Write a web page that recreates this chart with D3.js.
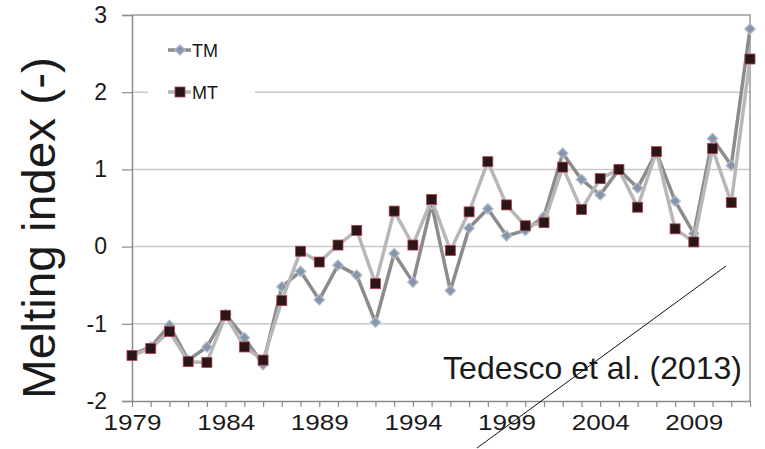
<!DOCTYPE html>
<html>
<head>
<meta charset="utf-8">
<script src="https://cdn.jsdelivr.net/npm/d3@7"></script>
<style>
  body { margin: 0; background: #fff; }
  text { font-family: "Liberation Sans", Arial, sans-serif; fill: #1a1a1a; }
</style>
</head>
<body>
<svg width="765" height="449"></svg>
<script>
// data
var years = d3.range(1979, 2013);
var tm = [-1.40, -1.30, -1.02, -1.47, -1.30, -0.88, -1.18, -1.53, -0.52, -0.32,
          -0.69, -0.24, -0.37, -0.98, -0.09, -0.46, 0.55, -0.57, 0.24, 0.49,
          0.14, 0.21, 0.39, 1.21, 0.87, 0.67, 1.00, 0.76, 1.22, 0.59,
          0.17, 1.40, 1.05, 2.82];
var mt = [-1.41, -1.32, -1.10, -1.49, -1.50, -0.89, -1.30, -1.47, -0.70, -0.06,
          -0.20, 0.02, 0.21, -0.48, 0.46, 0.02, 0.61, -0.05, 0.45, 1.10,
          0.54, 0.27, 0.31, 1.03, 0.48, 0.88, 1.00, 0.51, 1.23, 0.23,
          0.06, 1.27, 0.57, 2.43];
var yTicks = [-2, -1, 0, 1, 2, 3];
var xLabels = [1979, 1984, 1989, 1994, 1999, 2004, 2009];

var svg = d3.select("svg");

var x = d3.scaleLinear().domain([1979, 2012]).range([132, 750]);
var y = d3.scaleLinear().domain([-2, 3]).range([401, 15]);

// stretch a text horizontally so it is w pixels long
function fitWidth(sel, w, base) {
  sel.each(function() {
    var len = this.getComputedTextLength();
    var k = len > 0 ? w / len : 1;
    d3.select(this).attr("transform", (base || "") + " scale(" + k + ",1)");
  });
}

// grid lines
svg.append("g")
  .selectAll("line")
  .data([-1, 0, 1, 2])
  .enter()
  .append("line")
  .attr("x1", 132).attr("x2", 750)
  .attr("y1", d => y(d)).attr("y2", d => y(d))
  .attr("stroke", "#c9c9c9").attr("stroke-width", 1.5);

// frame top + right
svg.append("path")
  .attr("d", "M" + x(1979) + "," + y(3) + "H" + x(2012) + "V" + y(-2))
  .attr("fill", "none").attr("stroke", "#9a9a9a").attr("stroke-width", 1.5);

// y axis
var yAxis = d3.axisLeft(y).tickValues(yTicks).tickSize(10).tickPadding(15)
  .tickFormat(d => String(d));
var gy = svg.append("g").attr("transform", "translate(132,0)").call(yAxis);
gy.select(".domain").attr("stroke", "#8a8a8a").attr("stroke-width", 1.5);
gy.selectAll(".tick line").attr("stroke", "#8a8a8a").attr("stroke-width", 1.2);
gy.selectAll(".tick text").attr("font-size", 23).attr("fill", "#1a1a1a")
  .attr("font-family", "Liberation Sans, Arial, sans-serif");

// x axis: a tick every year, label every 5
var xAxis = d3.axisBottom(x).tickValues(years).tickSize(6).tickSizeOuter(0)
  .tickPadding(7)
  .tickFormat(d => xLabels.indexOf(d) >= 0 ? d : "");
var gx = svg.append("g").attr("transform", "translate(0,401)").call(xAxis);
gx.select(".domain").attr("stroke", "#8a8a8a").attr("stroke-width", 1.5);
gx.selectAll(".tick line").attr("stroke", "#8a8a8a").attr("stroke-width", 1.2);
var xl = gx.selectAll(".tick text").filter(d => xLabels.indexOf(d) >= 0)
  .attr("font-size", 22).attr("fill", "#1a1a1a")
  .attr("font-family", "Liberation Sans, Arial, sans-serif");
fitWidth(xl, 58);

// y title
var title = svg.append("text")
  .attr("text-anchor", "middle")
  .attr("font-size", 46)
  .text("Melting index (-)");
fitWidth(title, 342, "translate(55,228) rotate(-90)");

var line = d3.line().x((d, i) => x(years[i])).y(d => y(d));

// TM series
svg.append("path").datum(tm)
  .attr("d", line)
  .attr("fill", "none").attr("stroke", "#8c8c8c").attr("stroke-width", 3.5)
  .attr("stroke-linejoin", "round");
var diamond = d3.symbol().type(d3.symbolDiamond2).size(70);
svg.append("g").selectAll("path")
  .data(tm).enter().append("path")
  .attr("d", diamond)
  .attr("transform", (d, i) => "translate(" + x(years[i]) + "," + y(d) + ")")
  .attr("fill", "#8796ac").attr("stroke", "#b3bfcc").attr("stroke-width", 1.2);

// MT series
svg.append("path").datum(mt)
  .attr("d", line)
  .attr("fill", "none").attr("stroke", "#b7b7b7").attr("stroke-width", 3.5)
  .attr("stroke-linejoin", "round");
svg.append("g").selectAll("rect")
  .data(mt).enter().append("rect")
  .attr("x", (d, i) => x(years[i]) - 5)
  .attr("y", d => y(d) - 5)
  .attr("width", 10).attr("height", 10)
  .attr("fill", "#2a1616").attr("stroke", "#b04050").attr("stroke-width", 0.8);

// legend
var leg = svg.append("g");
leg.append("rect").attr("x", 148).attr("y", 30).attr("width", 107).attr("height", 80)
  .attr("fill", "#fff");
leg.append("line").attr("x1", 168).attr("x2", 191).attr("y1", 50).attr("y2", 50)
  .attr("stroke", "#8c8c8c").attr("stroke-width", 3.5);
leg.append("path").attr("d", diamond)
  .attr("transform", "translate(180,50)")
  .attr("fill", "#8796ac").attr("stroke", "#b3bfcc").attr("stroke-width", 1.2);
leg.append("text").attr("x", 192).attr("y", 57).attr("font-size", 18).text("TM");
leg.append("line").attr("x1", 168).attr("x2", 191).attr("y1", 92).attr("y2", 92)
  .attr("stroke", "#b7b7b7").attr("stroke-width", 3.5);
leg.append("rect").attr("x", 175).attr("y", 87).attr("width", 10).attr("height", 10)
  .attr("fill", "#2a1616").attr("stroke", "#b04050").attr("stroke-width", 0.8);
leg.append("text").attr("x", 192).attr("y", 99).attr("font-size", 18).text("MT");

// source note
var note = svg.append("text")
  .attr("text-anchor", "end")
  .attr("font-size", 31)
  .text("Tedesco et al. (2013)");
fitWidth(note, 299, "translate(742,379)");

svg.append("line")
  .attr("x1", 726).attr("y1", 266).attr("x2", 477).attr("y2", 448)
  .attr("stroke", "#111").attr("stroke-width", 1);
</script>
</body>
</html>
